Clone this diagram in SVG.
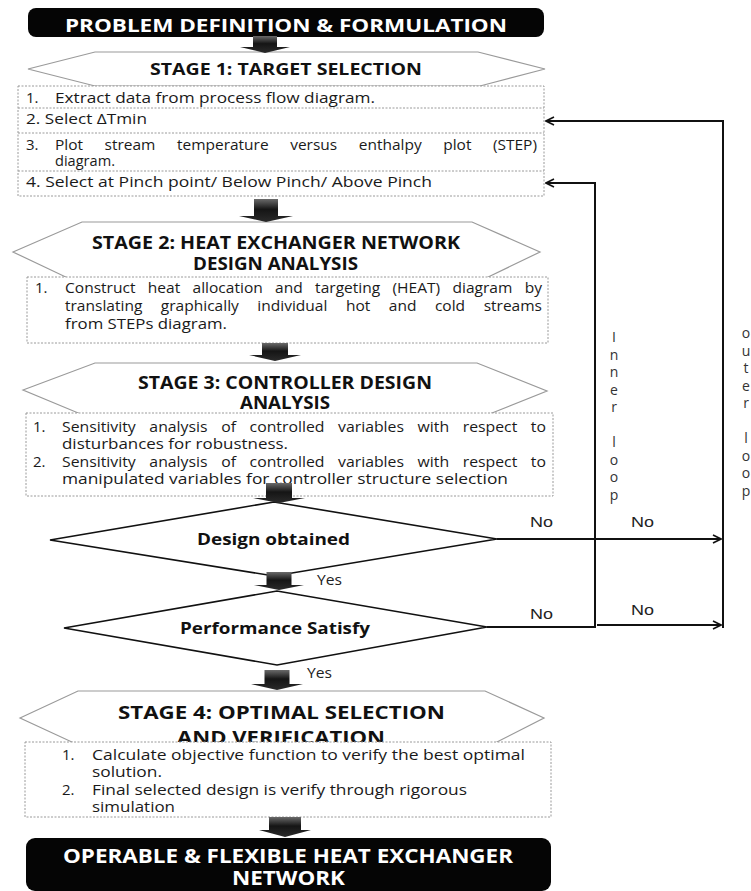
<svg xmlns="http://www.w3.org/2000/svg" width="751" height="891" viewBox="0 0 751 891">
<defs>
<style>
.hdr{font-family:"Open Sans","Liberation Sans",sans-serif;font-weight:bold;fill:#111}
.hdrw{font-family:"Open Sans","Liberation Sans",sans-serif;font-weight:bold;fill:#fff}
.body{font-family:"Open Sans","Liberation Sans",sans-serif;font-size:15px;fill:#1a1a1a}
.hex{fill:#fff;stroke:#9a9a9a;stroke-width:1.2}
.box{fill:#fff;stroke:#9a9a9a;stroke-width:1;stroke-dasharray:2 1.5}
.sep{stroke:#9a9a9a;stroke-width:1;stroke-dasharray:2 1.5}
.dia{fill:#fff;stroke:#111;stroke-width:1.6}
.blk{fill:url(#ag)}
.con{fill:none;stroke:#111;stroke-width:2}
.lbl{font-family:"Liberation Sans",Arial,sans-serif;font-size:14px;fill:#222}
.yes{font-family:"Open Sans","Liberation Sans",sans-serif;font-size:14px;fill:#222}
.loop{font-family:"Open Sans","Liberation Sans",sans-serif;font-size:14px;fill:#333;text-anchor:middle}
</style>
<linearGradient id="ag" x1="0" y1="0" x2="0" y2="1">
<stop offset="0" stop-color="#6a6a6a"/>
<stop offset="0.45" stop-color="#151515"/>
<stop offset="1" stop-color="#2a2a2a"/>
</linearGradient>
<marker id="ah" viewBox="0 0 10 10" refX="9" refY="5" markerWidth="10" markerHeight="10" markerUnits="userSpaceOnUse" orient="auto">
<path d="M1,1 L9,5 L1,9" fill="none" stroke="#111" stroke-width="1.6"/>
</marker>
</defs>

<g id="start">
<rect x="28" y="8" width="516" height="29" rx="8" fill="#050505"/>
<text class="hdrw" x="65" y="31.5" font-size="18.5" textLength="442" lengthAdjust="spacingAndGlyphs">PROBLEM DEFINITION &amp; FORMULATION</text>
</g>

<g id="stage1">
<polygon class="hex" points="28,69 95,52 478,52 545,69 480,86 95,86"/>
<text class="hdr" x="150" y="75" font-size="16.5" textLength="272" lengthAdjust="spacingAndGlyphs">STAGE 1: TARGET SELECTION</text>
<rect class="box" x="18" y="86" width="526" height="110"/>
<line class="sep" x1="18" y1="108" x2="544" y2="108"/>
<line class="sep" x1="18" y1="133" x2="544" y2="133"/>
<line class="sep" x1="18" y1="171" x2="544" y2="171"/>
<text class="body" x="26" y="102.5">1.</text>
<text class="body" x="55" y="102.5" textLength="320" lengthAdjust="spacingAndGlyphs">Extract data from process flow diagram.</text>
<text class="body" x="26" y="124" textLength="121" lengthAdjust="spacingAndGlyphs">2. Select ΔTmin</text>
<text class="body" x="26" y="150">3.</text>
<text class="body" x="55" y="150" word-spacing="17" textLength="482" lengthAdjust="spacingAndGlyphs">Plot stream temperature versus enthalpy plot (STEP)</text>
<text class="body" x="55" y="166" textLength="60" lengthAdjust="spacingAndGlyphs">diagram.</text>
<text class="body" x="26" y="187" textLength="406" lengthAdjust="spacingAndGlyphs">4. Select at Pinch point/ Below Pinch/ Above Pinch</text>
</g>

<g id="stage2">
<polygon class="hex" points="13,252 82,222 472,222 540,252 482,280 72,280"/>
<text class="hdr" x="92" y="249" font-size="17.5" textLength="368" lengthAdjust="spacingAndGlyphs">STAGE 2: HEAT EXCHANGER NETWORK</text>
<text class="hdr" x="193" y="270" font-size="17.5" textLength="165" lengthAdjust="spacingAndGlyphs">DESIGN ANALYSIS</text>
<rect class="box" x="27" y="277" width="521" height="66"/>
<text class="body" x="35" y="292.5">1.</text>
<text class="body" x="65" y="292.5" word-spacing="8" textLength="477" lengthAdjust="spacingAndGlyphs">Construct heat allocation and targeting (HEAT) diagram by</text>
<text class="body" x="65" y="310.5" word-spacing="14" textLength="477" lengthAdjust="spacingAndGlyphs">translating graphically individual hot and cold streams</text>
<text class="body" x="65" y="328.5" textLength="162" lengthAdjust="spacingAndGlyphs">from STEPs diagram.</text>
</g>

<g id="stage3">
<polygon class="hex" points="23,390 95,363 477,363 547,391 487,415 83,415"/>
<text class="hdr" x="138" y="389" font-size="17.5" textLength="294" lengthAdjust="spacingAndGlyphs">STAGE 3: CONTROLLER DESIGN</text>
<text class="hdr" x="240" y="409" font-size="17.5" textLength="90" lengthAdjust="spacingAndGlyphs">ANALYSIS</text>
<rect class="box" x="26" y="413" width="527" height="83"/>
<text class="body" x="33" y="431.5">1.</text>
<text class="body" x="62" y="431.5" word-spacing="9" textLength="484" lengthAdjust="spacingAndGlyphs">Sensitivity analysis of controlled variables with respect to</text>
<text class="body" x="62" y="449" textLength="226" lengthAdjust="spacingAndGlyphs">disturbances for robustness.</text>
<text class="body" x="33" y="466.5">2.</text>
<text class="body" x="62" y="466.5" word-spacing="9" textLength="484" lengthAdjust="spacingAndGlyphs">Sensitivity analysis of controlled variables with respect to</text>
<text class="body" x="62" y="484" textLength="446" lengthAdjust="spacingAndGlyphs">manipulated variables for controller structure selection</text>
</g>

<g id="decision1">
<polygon class="dia" points="50,540 274,502 497,539 274,576"/>
<text class="hdr" x="197" y="545" font-size="16" textLength="153" lengthAdjust="spacingAndGlyphs">Design obtained</text>
</g>

<g id="decision2">
<polygon class="dia" points="64,628 277,591 487,627 277,665"/>
<text class="hdr" x="180" y="634" font-size="16" textLength="190" lengthAdjust="spacingAndGlyphs">Performance Satisfy</text>
</g>

<g id="stage4">
<polygon class="hex" points="20,718 78,691 485,691 544,718 495,743 74,743"/>
<text class="hdr" x="118" y="719" font-size="18.5" textLength="327" lengthAdjust="spacingAndGlyphs">STAGE 4: OPTIMAL SELECTION</text>
<text class="hdr" x="177" y="744" font-size="18.5" textLength="208" lengthAdjust="spacingAndGlyphs">AND VERIFICATION</text>
<rect class="box" x="25" y="742" width="526" height="75"/>
<text class="body" x="62" y="760">1.</text>
<text class="body" x="92" y="760" textLength="433" lengthAdjust="spacingAndGlyphs">Calculate objective function to verify the best optimal</text>
<text class="body" x="92" y="776.5" textLength="70" lengthAdjust="spacingAndGlyphs">solution.</text>
<text class="body" x="62" y="795">2.</text>
<text class="body" x="92" y="795" textLength="375" lengthAdjust="spacingAndGlyphs">Final selected design is verify through rigorous</text>
<text class="body" x="92" y="811.5" textLength="83" lengthAdjust="spacingAndGlyphs">simulation</text>
</g>

<g id="end">
<rect x="26" y="838" width="525" height="53" rx="9" fill="#050505"/>
<text class="hdrw" x="63" y="863" font-size="20" textLength="450" lengthAdjust="spacingAndGlyphs">OPERABLE &amp; FLEXIBLE HEAT EXCHANGER</text>
<text class="hdrw" x="232" y="885" font-size="20" textLength="113" lengthAdjust="spacingAndGlyphs">NETWORK</text>
</g>

<g id="connectors">
<path class="blk" d="M253,36 H277 V47 H290 L265,53 L240,47 H253 Z"/>
<path class="blk" d="M254,199 H278 V216 H293 L266,222 L239,216 H254 Z"/>
<path class="blk" d="M262,343 H288 V355 H301 L275,361 L249,355 H262 Z"/>
<path class="blk" d="M266,483 H292 V498 H305 L279,503 L253,498 H266 Z"/>
<path class="blk" d="M266.5,572 H291.5 V585 H304 L279,590 L254,585 H266.5 Z"/>
<path class="blk" d="M264.5,670 H289.5 V684 H303 L277,690 L251,684 H264.5 Z"/>
<path class="blk" d="M269,817 H301 V830 H311 L285,837 L259,830 H269 Z"/>
<path class="con" d="M723,628 V121 H546" marker-end="url(#ah)"/>
<path class="con" d="M595,628 V183 H546" marker-end="url(#ah)"/>
<path class="con" d="M497,539 H721" marker-end="url(#ah)"/>
<path class="con" d="M487,627 H596"/>
<path class="con" d="M597,625 H721" marker-end="url(#ah)"/>
<text class="lbl" x="530" y="527" textLength="23" lengthAdjust="spacingAndGlyphs">No</text>
<text class="lbl" x="631" y="527" textLength="23" lengthAdjust="spacingAndGlyphs">No</text>
<text class="lbl" x="530" y="619" textLength="23" lengthAdjust="spacingAndGlyphs">No</text>
<text class="lbl" x="631" y="615" textLength="23" lengthAdjust="spacingAndGlyphs">No</text>
<text class="yes" x="317" y="585" textLength="25" lengthAdjust="spacingAndGlyphs">Yes</text>
<text class="yes" x="307" y="678" textLength="25" lengthAdjust="spacingAndGlyphs">Yes</text>
<text class="loop" x="614" y="342">I</text>
<text class="loop" x="614" y="359.5">n</text>
<text class="loop" x="614" y="377">n</text>
<text class="loop" x="614" y="394.5">e</text>
<text class="loop" x="614" y="412">r</text>
<text class="loop" x="614" y="447">l</text>
<text class="loop" x="614" y="464.5">o</text>
<text class="loop" x="614" y="482">o</text>
<text class="loop" x="614" y="499.5">p</text>
<text class="loop" x="746" y="338">o</text>
<text class="loop" x="746" y="355.5">u</text>
<text class="loop" x="746" y="373">t</text>
<text class="loop" x="746" y="390.5">e</text>
<text class="loop" x="746" y="408">r</text>
<text class="loop" x="746" y="443">l</text>
<text class="loop" x="746" y="460.5">o</text>
<text class="loop" x="746" y="478">o</text>
<text class="loop" x="746" y="495.5">p</text>
</g>
</svg>
